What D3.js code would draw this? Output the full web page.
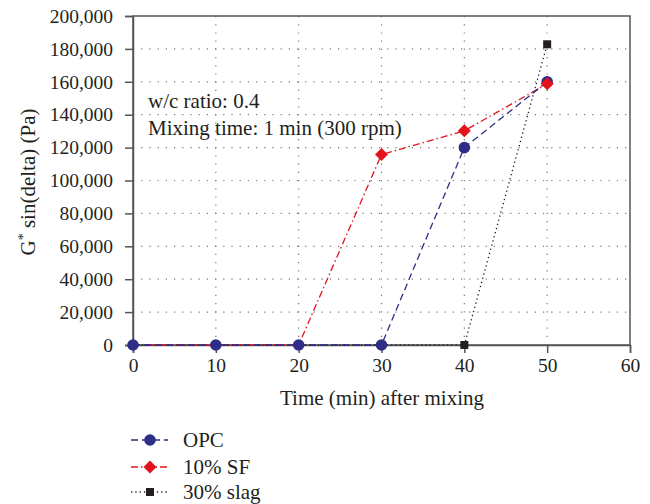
<!DOCTYPE html>
<html><head><meta charset="utf-8">
<script src="https://cdn.jsdelivr.net/npm/d3@7"></script>
<style>body{margin:0;background:#fff}text{font-family:"Liberation Serif","Times New Roman",serif;fill:#231f20}</style>
</head><body><svg id="c" width="650" height="504"></svg>
<script>
const times = [0, 10, 20, 30, 40, 50];
const opc = [0, 0, 0, 0, 120000, 160000];
const sf10 = [0, 0, 0, 115800, 130200, 158800];
const slag30 = [0, 0, 0, 0, 0, 182800];
const yTicks = [0,20000,40000,60000,80000,100000,120000,140000,160000,180000,200000];
const xTicks = [0,10,20,30,40,50,60];
const seriesNames = ["OPC", "10% SF", "30% slag"];

const svg = d3.select("#c");
const L = 133, R = 630, T = 16, B = 345;
const x = d3.scaleLinear().domain([0,60]).range([L,R]);
const y = d3.scaleLinear().domain([0,200000]).range([B,T]);
const fs = 19.5, fsT = 21;

const g = svg.append("g");
g.selectAll(".gh").data(yTicks.slice(1,-1)).join("line")
  .attr("x1",L).attr("x2",R).attr("y1",d=>y(d)).attr("y2",d=>y(d))
  .attr("stroke","#777").attr("stroke-width",1.2).attr("stroke-dasharray","1.2,7");
g.selectAll(".gv").data(xTicks.slice(1,-1)).join("line")
  .attr("y1",T).attr("y2",B).attr("x1",d=>x(d)).attr("x2",d=>x(d))
  .attr("stroke","#777").attr("stroke-width",1.2).attr("stroke-dasharray","1.2,7");

svg.append("rect").attr("x",L).attr("y",T).attr("width",R-L).attr("height",B-T)
  .attr("fill","none").attr("stroke","#555").attr("stroke-width",1.5);

const ya = svg.append("g").attr("transform",`translate(${L},0)`)
  .call(d3.axisLeft(y).tickValues(yTicks).tickSize(8).tickPadding(12).tickFormat(d3.format(",")));
const xa = svg.append("g").attr("transform",`translate(0,${B})`)
  .call(d3.axisBottom(x).tickValues(xTicks).tickSize(8).tickPadding(5).tickFormat(d3.format("d")));
[ya,xa].forEach(a=>{
  a.select(".domain").attr("stroke","#555").attr("stroke-width",1.5);
  a.selectAll(".tick line").attr("stroke","#555").attr("stroke-width",1.5);
  a.selectAll("text").attr("font-size",fs).attr("font-family","Liberation Serif").attr("fill","#231f20");
});

const data = [
  {name:seriesNames[0], vals:opc, color:"#2e2d88", dash:"7,4", marker:"circle"},
  {name:seriesNames[1], vals:sf10, color:"#e3131b", dash:"7,3,1.5,3", marker:"diamond"},
  {name:seriesNames[2], vals:slag30, color:"#231f20", dash:"1.3,3", marker:"square"}
];
const line = d3.line().x((d,i)=>x(times[i])).y(d=>y(d));
function drawMarker(sel, s, cx, cy){
  let p;
  if (s.marker==="circle") p = d3.symbol().type(d3.symbolCircle).size(105)();
  else if (s.marker==="diamond") p = "M0,-6.5L6.5,0L0,6.5L-6.5,0Z";
  else p = d3.symbol().type(d3.symbolSquare).size(64)();
  sel.append("path").attr("d", p).attr("transform",`translate(${cx},${cy})`).attr("fill",s.color);
}

[data[2], data[1], data[0]].forEach(s=>{
  svg.append("path").datum(s.vals).attr("d",line).attr("fill","none")
    .attr("stroke",s.color).attr("stroke-width",1.3).attr("stroke-dasharray",s.dash);
});
[data[2], data[0], data[1]].forEach(s=>{
  s.vals.forEach((v,i)=>{
    if (s.marker==="square" && i<4) return;
    if (s.marker==="diamond" && i<3) return;
    drawMarker(svg, s, x(times[i]), y(v));
  });
});

svg.append("text").attr("x",148).attr("y",108).attr("font-size",fsT).text("w/c ratio: 0.4");
svg.append("text").attr("x",148).attr("y",135).attr("font-size",fsT).text("Mixing time: 1 min (300 rpm)");

const yt = svg.append("text").attr("transform",`translate(35,182) rotate(-90)`)
  .attr("text-anchor","middle").attr("font-size",fsT);
yt.append("tspan").text("G");
yt.append("tspan").attr("baseline-shift","super").attr("font-size",14).text("*");
yt.append("tspan").text(" sin(delta) (Pa)");
svg.append("text").attr("x",382).attr("y",405).attr("text-anchor","middle").attr("font-size",fsT)
  .text("Time (min) after mixing");

const ly = [441, 468, 493];
data.forEach((s,i)=>{
  svg.append("line").attr("x1",131).attr("x2",168).attr("y1",ly[i]-1).attr("y2",ly[i]-1)
    .attr("stroke",s.color).attr("stroke-width",1.3).attr("stroke-dasharray",s.dash);
  drawMarker(svg, s, 150, ly[i]-1);
  svg.append("text").attr("x",183).attr("y",ly[i]+6).attr("font-size",fsT).text(s.name);
});
</script></body></html>
